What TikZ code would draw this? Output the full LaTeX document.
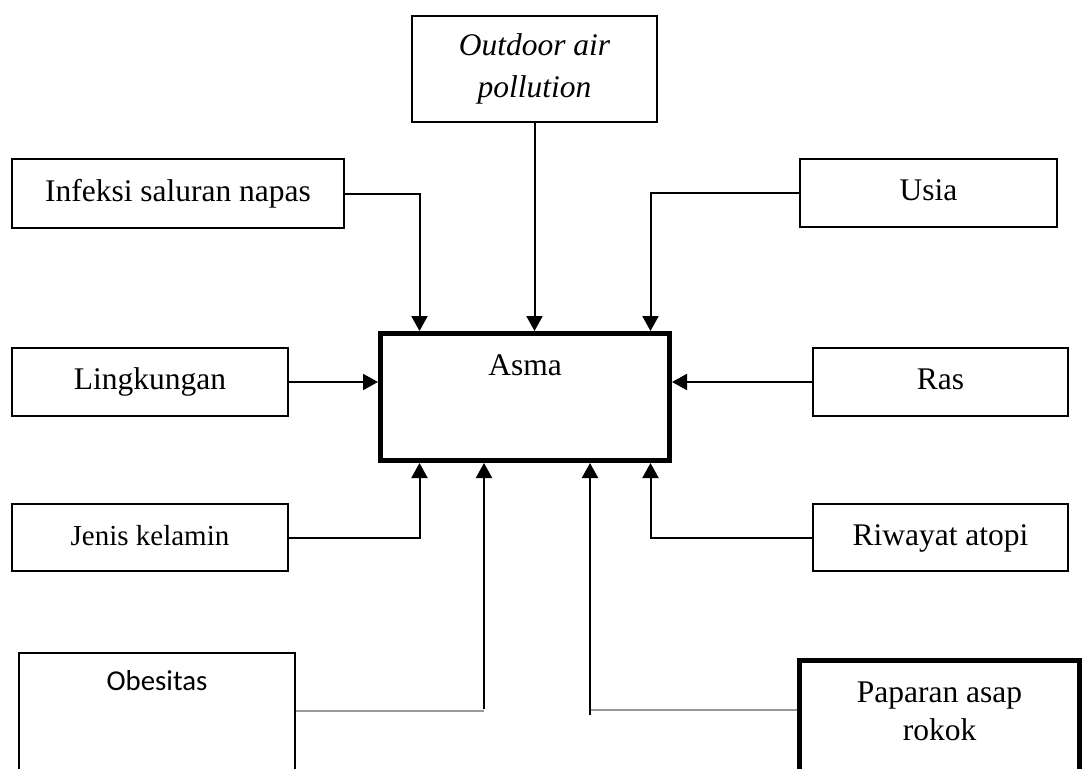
\documentclass[tikz,border=0pt]{standalone}
\usepackage{fontspec}
\setmainfont{Liberation Serif}
\newfontfamily\calfont{Carlito}
\usetikzlibrary{calc,arrows.meta}

\begin{document}
\begin{tikzpicture}[x=1pt, y=-1pt, line width=2pt,
  box/.style={draw, line width=2pt, inner sep=0pt, text height=22pt, text depth=7pt,
    font=\fontsize{31.5}{38}\selectfont},
  thick box/.style={box, line width=5pt},
  >={Triangle[length=15pt,width=16pt]}]

  \useasboundingbox (0,0) rectangle (1088,769);
  \clip (0,0) rectangle (1088,769);

  \node[thick box, minimum width=289pt, minimum height=127pt, text depth=66pt] (asma) at (525,397) {Asma};
  \node[box, minimum width=245pt, minimum height=106pt, text depth=50pt,
    font=\fontsize{31.5}{38}\selectfont\itshape] (out) at (534.5,69)
    {\begin{tabular}[t]{c}Outdoor air\\[4pt]pollution\end{tabular}};
  \node[box, minimum width=332pt, minimum height=69pt] (inf) at (178,193.5) {Infeksi saluran napas};
  \node[box, minimum width=257pt, minimum height=68pt] (usia) at (928.5,193) {Usia};
  \node[box, minimum width=276pt, minimum height=68pt] (ling) at (150,382) {Lingkungan};
  \node[box, minimum width=255pt, minimum height=68pt] (ras) at (940.5,382) {Ras};
  \node[box, minimum width=276pt, minimum height=67pt, font=\fontsize{29}{35}\selectfont] (jk) at (150,537.5) {Jenis kelamin};
  \node[box, minimum width=255pt, minimum height=67pt] (atopi) at (940.5,537.5) {Riwayat atopi};
  \node[box, minimum width=276pt, minimum height=147pt, text depth=94pt,
    font=\calfont\fontsize{28.8}{35}\selectfont] (obes) at (157,726.5) {Obesitas};
  \node[thick box, minimum width=280pt, minimum height=140pt, text depth=78pt] (rokok) at (939.5,730.5)
    {\begin{tabular}[t]{c}Paparan asap\\rokok\end{tabular}};

  \draw[->] (out) -- (out |- asma.north);
  \draw[->] (inf) -| ([xshift=41.5pt]asma.north west);
  \draw[->] (usia) -| ([xshift=-21.5pt]asma.north east);
  \draw[->] (ling) -- (ling -| asma.west);
  \draw[->] (ras) -- (ras -| asma.east);
  \draw[->] (jk) -| ([xshift=41.5pt]asma.south west);
  \draw[->] (atopi) -| ([xshift=-21.5pt]asma.south east);

  \coordinate (obes end) at (484,711);
  \coordinate (rokok end) at (590,710);
  \draw[gray!80, line width=1.2pt] (obes.east |- obes end) -- (obes end);
  \draw[->] ([yshift=2pt]obes end) -- (obes end |- asma.south);
  \draw[gray!80, line width=1.2pt] (rokok end) -- (rokok end -| rokok.west);
  \draw[->] ([yshift=-5pt]rokok end) -- (rokok end |- asma.south);
\end{tikzpicture}
\end{document}
